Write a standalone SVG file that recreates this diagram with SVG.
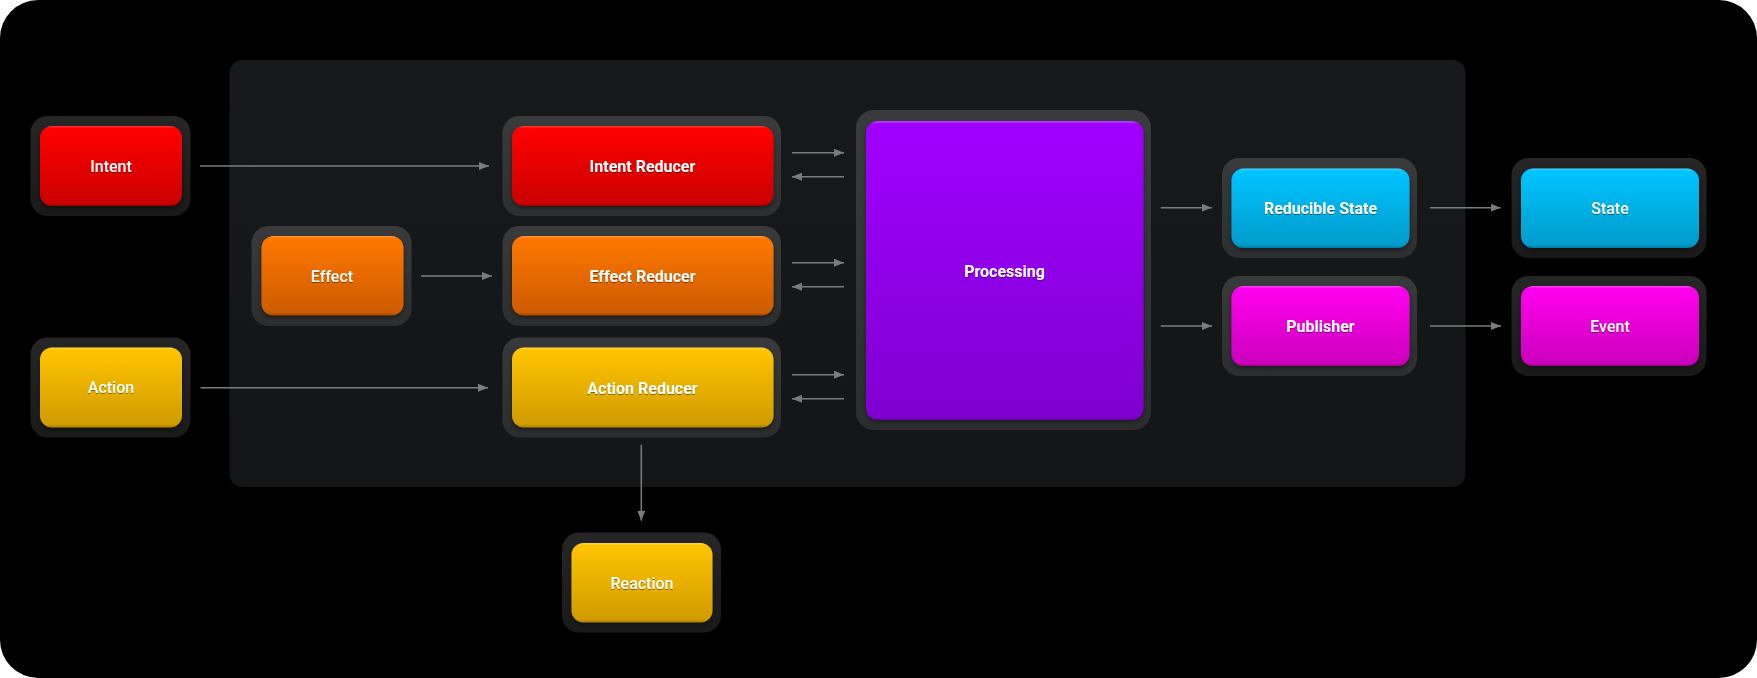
<svg xmlns="http://www.w3.org/2000/svg" width="1757" height="678" viewBox="0 0 1757 678">
<style>
.well{fill:url(#gWell)}
.inner{filter:url(#fShadow)}
.lbl{font-family:Roboto,"Liberation Sans",sans-serif;font-size:16px;fill:#ffffff;text-anchor:middle;filter:url(#fText)}
.n{font-weight:500}
.b{font-weight:700}
.conn line{stroke:#7c7c7c;stroke-width:1.5;marker-end:url(#arrow)}
</style>
<defs>
<marker id="arrow" viewBox="0 0 10 8" refX="10" refY="4" markerWidth="10" markerHeight="8" markerUnits="userSpaceOnUse" orient="auto">
<path d="M0,0 L10,4 L0,8 Z" fill="#7c7c7c"/>
</marker>
<linearGradient id="gWell" x1="0" y1="0" x2="0" y2="1">
<stop offset="0" stop-color="#ffffff" stop-opacity="0.15"/>
<stop offset="1" stop-color="#ffffff" stop-opacity="0.10"/>
</linearGradient>
<linearGradient id="gPanel" x1="0" y1="0" x2="0" y2="1">
<stop offset="0" stop-color="#18191b"/>
<stop offset="1" stop-color="#141516"/>
</linearGradient>
<linearGradient id="gRed" x1="0" y1="0" x2="0" y2="1">
<stop offset="0" stop-color="#ff3a3a"/>
<stop offset="0.03" stop-color="#ff0000"/>
<stop offset="0.96" stop-color="#cc0000"/>
<stop offset="1" stop-color="#a00000"/>
</linearGradient>
<linearGradient id="gOrange" x1="0" y1="0" x2="0" y2="1">
<stop offset="0" stop-color="#ff9a40"/>
<stop offset="0.03" stop-color="#ff7700"/>
<stop offset="0.96" stop-color="#cc5c00"/>
<stop offset="1" stop-color="#a04800"/>
</linearGradient>
<linearGradient id="gYellow" x1="0" y1="0" x2="0" y2="1">
<stop offset="0" stop-color="#ffd84a"/>
<stop offset="0.03" stop-color="#ffc400"/>
<stop offset="0.96" stop-color="#d09c00"/>
<stop offset="1" stop-color="#a67c00"/>
</linearGradient>
<linearGradient id="gPurple" x1="0" y1="0" x2="0" y2="1">
<stop offset="0" stop-color="#b84aff"/>
<stop offset="0.01" stop-color="#a000ff"/>
<stop offset="0.99" stop-color="#7f00d0"/>
<stop offset="1" stop-color="#6500a8"/>
</linearGradient>
<linearGradient id="gCyan" x1="0" y1="0" x2="0" y2="1">
<stop offset="0" stop-color="#4ad6ff"/>
<stop offset="0.03" stop-color="#00c4ff"/>
<stop offset="0.96" stop-color="#009ccc"/>
<stop offset="1" stop-color="#007aa0"/>
</linearGradient>
<linearGradient id="gMagenta" x1="0" y1="0" x2="0" y2="1">
<stop offset="0" stop-color="#ff4af4"/>
<stop offset="0.03" stop-color="#ff00ee"/>
<stop offset="0.96" stop-color="#cc00bc"/>
<stop offset="1" stop-color="#a00094"/>
</linearGradient>
<filter id="fShadow" x="-10%" y="-10%" width="120%" height="130%">
<feDropShadow dx="0" dy="2" stdDeviation="2" flood-color="#000000" flood-opacity="0.45"/>
</filter>
<filter id="fText" x="-10%" y="-30%" width="120%" height="160%">
<feDropShadow dx="0" dy="1" stdDeviation="0.7" flood-color="#000000" flood-opacity="0.45"/>
</filter>
</defs>

<rect x="0" y="0" width="1757" height="678" rx="38" ry="38" fill="#000000"/>
<rect id="panel" x="229.5" y="60" width="1236" height="427" rx="13" ry="13" fill="url(#gPanel)"/>

<g id="intent">
<rect class="well" x="30.5" y="116" width="160" height="100" rx="17"/>
<rect class="inner" x="40" y="126" width="142" height="80" rx="12" fill="url(#gRed)"/>
<text class="lbl n" x="111" y="171.5">Intent</text>
</g>
<g id="effect">
<rect class="well" x="251.5" y="226" width="160" height="100" rx="17"/>
<rect class="inner" x="261.5" y="236" width="142" height="79.5" rx="12" fill="url(#gOrange)"/>
<text class="lbl n" x="332" y="281.5">Effect</text>
</g>
<g id="action">
<rect class="well" x="30.5" y="337.5" width="160" height="100" rx="17"/>
<rect class="inner" x="40" y="347.5" width="142" height="80" rx="12" fill="url(#gYellow)"/>
<text class="lbl n" x="111" y="393">Action</text>
</g>
<g id="intent-reducer">
<rect class="well" x="502.5" y="116" width="278.5" height="100" rx="17"/>
<rect class="inner" x="512" y="126" width="261.5" height="80" rx="12" fill="url(#gRed)"/>
<text class="lbl b" x="642.5" y="172">Intent Reducer</text>
</g>
<g id="effect-reducer">
<rect class="well" x="502.5" y="226" width="278.5" height="100" rx="17"/>
<rect class="inner" x="512" y="236" width="261.5" height="79.5" rx="12" fill="url(#gOrange)"/>
<text class="lbl b" x="642.5" y="282">Effect Reducer</text>
</g>
<g id="action-reducer">
<rect class="well" x="502.5" y="337.5" width="278.5" height="100" rx="17"/>
<rect class="inner" x="512" y="347.5" width="261.5" height="80" rx="12" fill="url(#gYellow)"/>
<text class="lbl b" x="642.5" y="394">Action Reducer</text>
</g>
<g id="reaction">
<rect class="well" x="562" y="532.5" width="159" height="100" rx="17"/>
<rect class="inner" x="571.5" y="543" width="141" height="79.5" rx="12" fill="url(#gYellow)"/>
<text class="lbl n" x="642" y="588.5">Reaction</text>
</g>
<g id="processing">
<rect class="well" x="856" y="110" width="295" height="320" rx="18"/>
<rect class="inner" x="866" y="121" width="277.5" height="299" rx="12" fill="url(#gPurple)"/>
<text class="lbl b" x="1004.5" y="276.5">Processing</text>
</g>
<g id="reducible-state">
<rect class="well" x="1222" y="158" width="195" height="100" rx="17"/>
<rect class="inner" x="1231.5" y="168.5" width="178" height="79.5" rx="12" fill="url(#gCyan)"/>
<text class="lbl b" x="1320.5" y="214">Reducible State</text>
</g>
<g id="publisher">
<rect class="well" x="1222" y="276" width="195" height="100" rx="17"/>
<rect class="inner" x="1231.5" y="286" width="178" height="80" rx="12" fill="url(#gMagenta)"/>
<text class="lbl b" x="1320.5" y="332">Publisher</text>
</g>
<g id="state">
<rect class="well" x="1511.5" y="158" width="195" height="100" rx="17"/>
<rect class="inner" x="1521" y="168.5" width="178" height="79.5" rx="12" fill="url(#gCyan)"/>
<text class="lbl n" x="1610" y="213.5">State</text>
</g>
<g id="event">
<rect class="well" x="1511.5" y="276" width="195" height="100" rx="17"/>
<rect class="inner" x="1521" y="286" width="178" height="80" rx="12" fill="url(#gMagenta)"/>
<text class="lbl n" x="1610" y="331.5">Event</text>
</g>

<g id="connectors" class="conn">
<line x1="200" y1="166" x2="489" y2="166"/>
<line x1="421" y1="276" x2="492" y2="276"/>
<line x1="200.5" y1="387.7" x2="488" y2="387.7"/>
<line x1="792" y1="152.7" x2="844" y2="152.7"/>
<line x1="844" y1="176.7" x2="792" y2="176.7"/>
<line x1="792" y1="262.7" x2="844" y2="262.7"/>
<line x1="844" y1="286.7" x2="792" y2="286.7"/>
<line x1="792" y1="374.7" x2="844" y2="374.7"/>
<line x1="844" y1="398.7" x2="792" y2="398.7"/>
<line x1="641.3" y1="444.7" x2="641.3" y2="520.7"/>
<line x1="1160.8" y1="207.7" x2="1211.7" y2="207.7"/>
<line x1="1160.8" y1="326" x2="1212" y2="326"/>
<line x1="1430" y1="207.7" x2="1500.7" y2="207.7"/>
<line x1="1430" y1="326" x2="1501" y2="326"/>
</g>
</svg>
